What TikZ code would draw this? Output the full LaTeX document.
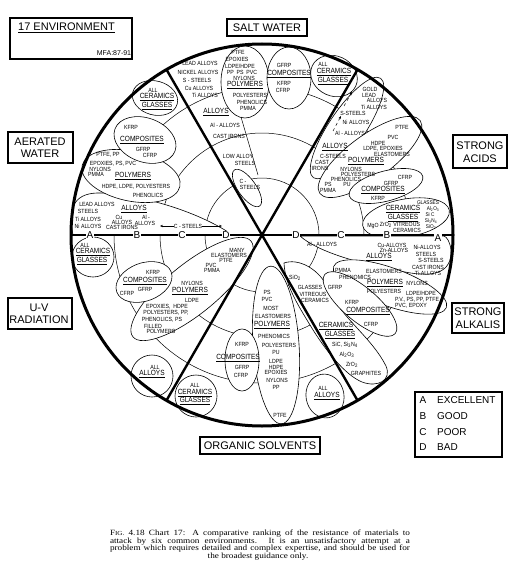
\documentclass[tikz,border=0pt]{standalone}
\usepackage{fontspec}
\setmainfont{Liberation Sans}
\newfontfamily\cond[FakeStretch=0.87]{Liberation Sans}
\newfontfamily\capserif[FakeStretch=1.15]{Liberation Serif}
\usetikzlibrary{arrows.meta}
\newcommand\smT[3]{\node[sm] at (#1,#2) {#3};}
\newcommand\hdT[3]{\node[hd] at (#1,#2) {\underline{#3}};}
\newcommand\sbs[1]{\textsubscript{#1}}
\begin{document}
\begin{tikzpicture}[x=1pt,y=-1pt,
  sm/.style={font=\cond\fontsize{6}{6}\selectfont, inner sep=0pt},
  tiny/.style={font=\cond\fontsize{5.4}{5.4}\selectfont, inner sep=0pt},
  hd/.style={font=\cond\fontsize{7.5}{7.5}\selectfont, inner sep=0pt},
  blob/.style={draw, line width=0.6pt, fill=white},
  ring/.style={line width=0.5pt},
  env/.style={font=\fontsize{11}{12.5}\selectfont, align=center, inner sep=0pt},
  envbox/.style={line width=1.3pt},
  letter/.style={font=\fontsize{10}{10}\selectfont, fill=white, inner sep=0.8pt},
  sector/.style={line width=2.4pt},
  arr/.style={-{Stealth[length=3pt,width=2.4pt]}, line width=0.5pt}]
\useasboundingbox (0,0) rectangle (509,575);
\fill[white] (0,0) rectangle (509,575);
\coordinate (O) at (262,235);
% zone rings
\draw[ring] (O) circle[radius=57pt];
\draw[ring] (O) circle[radius=102pt];
\draw[ring] (O) circle[radius=148pt];

% ---------- SALT WATER blobs
\draw[blob] (245,82) ellipse[x radius=24pt, y radius=36pt];
\draw[blob] (289,78) ellipse[x radius=22pt, y radius=31pt];
\draw[blob] (334,76) ellipse[x radius=24pt, y radius=20pt, rotate=-25];
\draw[ring] (241,117) -- (258,175);
\draw[blob] (247,188) ellipse[x radius=22pt, y radius=9pt, rotate=-55];
% ---------- STRONG ACIDS blobs
\draw[blob] (347,128) ellipse[x radius=60pt, y radius=18pt, rotate=56];
\draw[blob] (370,157) ellipse[x radius=62pt, y radius=22pt, rotate=36];
\draw[blob] (386,186) ellipse[x radius=38pt, y radius=15pt, rotate=15];
\draw[blob] (406,218) ellipse[x radius=44pt, y radius=19pt, rotate=10];
% ---------- STRONG ALKALIS blobs
\draw[blob] (300,236) .. controls (318,252) and (360,264) .. (405,272)
  .. controls (435,278) and (452,272) .. (451,250)
  .. controls (450,242) and (447,237) .. (444,236) -- cycle;
\draw[blob] (390,287) ellipse[x radius=60pt, y radius=19pt, rotate=-20];
\draw[blob] (284,263) .. controls (298,258) and (320,268) .. (330,292)
  .. controls (342,318) and (372,338) .. (386,366)
  .. controls (392,380) and (378,388) .. (362,382)
  .. controls (345,375) and (325,350) .. (310,325)
  .. controls (298,305) and (285,285) .. (284,263) -- cycle;
\draw[blob] (360,304) ellipse[x radius=46pt, y radius=17pt, rotate=-40];
% ---------- ORGANIC SOLVENTS blobs
\draw[blob] (276,345) ellipse[x radius=23pt, y radius=79pt, rotate=4];
\draw[blob] (242,360) ellipse[x radius=17pt, y radius=31pt];
\draw[blob] (325,396) ellipse[x radius=19pt, y radius=22pt, rotate=10];
\draw[blob] (196,396) circle[radius=21pt];
% ---------- U-V RADIATION blobs
\draw[blob] (152,376) circle[radius=21pt];
\draw[blob] (192,289) ellipse[x radius=76pt, y radius=25pt, rotate=39];
\draw[blob] (144,282) ellipse[x radius=29pt, y radius=19pt, rotate=20];
\draw[blob] (93,257) ellipse[x radius=21pt, y radius=20pt];
% ---------- AERATED WATER blobs
\draw[blob] (73,235) .. controls (67,205) and (76,192) .. (102,193)
  .. controls (150,196) and (200,214) .. (228,232) -- (228,235) -- cycle;
\draw[blob] (131,176) ellipse[x radius=50pt, y radius=25pt, rotate=-12];
\draw[blob] (145,140) ellipse[x radius=32pt, y radius=22pt, rotate=-20];
\draw[blob] (155,98) ellipse[x radius=23pt, y radius=17pt, rotate=-15];

% ---------- sector lines and outer circle
\coordinate (s60) at (357.5,69.6);
\coordinate (s120) at (166.5,69.6);
\coordinate (s240) at (166.5,400.4);
\coordinate (s300) at (357.5,400.4);
\coordinate (hl) at (71,235);
\coordinate (hr) at (453,235);
\draw[sector] (s120) -- (s300);
\draw[sector] (s60) -- (s240);
\draw[sector] (hl) -- (hr);
\draw[line width=3pt] (O) circle[radius=191pt];

% ---------- rank letters
\node[letter] (lA) at (90,235) {A};
\node[letter] (lB) at (137,235) {B};
\node[letter] (lC) at (182,235) {C};
\node[letter] (lD) at (226,235) {D};
\node[letter] (rD) at (296,235) {D};
\node[letter] (rC) at (341,235) {C};
\node[letter] (rB) at (387,235) {B};
\node[letter] (rA) at (438,238) {A};

% ---------- SALT WATER text
\smT{200}{63}{LEAD ALLOYS}
\smT{198}{72}{NICKEL ALLOYS}
\smT{197}{80}{S - STEELS}
\smT{199}{88}{Cu ALLOYS}
\smT{205}{95}{Ti ALLOYS}
\hdT{216}{112}{ALLOYS}
\smT{225}{125}{Al - ALLOYS}
\smT{229}{136}{CAST IRONS}
\smT{238}{156}{LOW ALLOY}
\smT{245}{163}{STEELS}
\smT{243}{181}{C -}
\smT{250}{187}{STEELS}
\smT{238}{52}{PTFE}
\smT{237}{59}{EPOXIES}
\smT{240}{66}{LDPE/HDPE}
\smT{242}{72}{PP\ \ PS\ \ PVC}
\smT{244}{78}{NYLONS}
\hdT{245}{85}{POLYMERS}
\smT{250}{95}{POLYESTERS}
\smT{252}{102}{PHENOLICS}
\smT{248}{108}{PMMA}
\smT{284}{65}{GFRP}
\hdT{289}{74}{COMPOSITES}
\smT{284}{83}{KFRP}
\smT{283}{90}{CFRP}
\smT{323}{64}{ALL}
\hdT{334}{72}{CERAMICS}
\hdT{333}{81}{GLASSES}

% ---------- STRONG ACIDS text
\smT{370}{89}{GOLD}
\smT{369}{95}{LEAD}
\smT{377}{100}{ALLOYS}
\smT{374}{107}{Ti ALLOYS}
\smT{353}{113}{S-STEELS}
\smT{356}{122}{Ni ALLOYS}
\smT{350}{133}{Al - ALLOYS}
\hdT{335}{147}{ALLOYS}
\smT{333}{156}{C-STEELS}
\smT{322}{162}{CAST}
\smT{320}{168}{IRONS}
\draw[arr, dashed] (333,131) -- (341,116);
\draw[arr, dashed] (344,106) -- (352,92);
\smT{402}{127}{PTFE}
\smT{393}{137}{PVC}
\smT{378}{143}{HDPE}
\smT{383}{148.5}{LDPE, EPOXIES}
\smT{392}{154}{ELASTOMERS}
\hdT{366}{161}{POLYMERS}
\smT{351}{169}{NYLONS}
\smT{358}{174}{POLYESTERS}
\smT{346}{179}{PHENOLICS}
\smT{328}{184}{PS}
\smT{347}{184}{PU}
\smT{328}{190}{PMMA}
\smT{405}{177}{CFRP}
\smT{391}{183}{GFRP}
\hdT{383}{190}{COMPOSITES}
\smT{378}{198}{KFRP}
\node[tiny] at (428,202.5) {GLASSES};
\hdT{403}{209}{CERAMICS}
\node[tiny] at (433,209) {Al\sbs{2}O\sbs{3}};
\hdT{403}{218}{GLASSES}
\node[tiny] at (430,215) {Si C};
\smT{373}{226}{MgO}
\smT{400}{225}{ZrO\sbs{2} VITREOUS}
\node[tiny] at (431,221) {Si\sbs{3}N\sbs{4}};
\smT{407}{230}{CERAMICS}
\node[tiny] at (431,227.5) {SiO\sbs{2}};

% ---------- STRONG ALKALIS text
\smT{322}{244}{Al - ALLOYS}
\smT{392}{245}{Cu-ALLOYS}
\smT{394}{250}{Zn-ALLOYS}
\smT{427}{247}{Ni-ALLOYS}
\smT{426}{254}{STEELS}
\hdT{379}{257}{ALLOYS}
\smT{431}{260}{S-STEELS}
\smT{428}{267}{CAST IRONS}
\smT{428}{273}{Ti-ALLOYS}
\smT{343}{270}{PMMA}
\smT{384}{271.5}{ELASTOMERS}
\smT{355}{277.5}{PHENOMICS}
\hdT{385}{283}{POLYMERS}
\smT{417}{283}{NYLONS}
\smT{384}{291}{POLYESTERS}
\smT{421}{293}{LDPE/HDPE}
\smT{417}{300}{P.V., PS, PP, PTFE}
\smT{411}{306}{PVC, EPOXY}
\smT{335}{287}{GFRP}
\smT{352}{302}{KFRP}
\hdT{368}{311}{COMPOSITES}
\smT{371}{324}{CFRP}
\smT{295}{278}{SiO\sbs{2}}
\smT{310}{287}{GLASSES}
\smT{313}{294}{VITREOUS}
\smT{315}{300}{CERAMICS}
\hdT{336}{326}{CERAMICS}
\hdT{340}{335}{GLASSES}
\smT{345}{345}{SiC, Si\sbs{3}N\sbs{4}}
\smT{347}{355}{Al\sbs{2}O\sbs{3}}
\smT{352}{365}{ZrO\sbs{2}}
\smT{366}{373}{GRAPHITES}

% ---------- ORGANIC SOLVENTS text
\smT{267}{292}{PS}
\smT{267}{299}{PVC}
\smT{271}{308}{MOST}
\smT{273}{316}{ELASTOMERS}
\hdT{272}{325}{POLYMERS}
\smT{274}{336}{PHENOMICS}
\smT{279}{345}{POLYESTERS}
\smT{276}{352}{PU}
\smT{276}{361}{LDPE}
\smT{276}{367}{HDPE}
\smT{276}{372}{EPOXIES}
\smT{277}{380}{NYLONS}
\smT{276}{387}{PP}
\smT{280}{415}{PTFE}
\smT{242}{344}{KFRP}
\hdT{238}{358}{COMPOSITES}
\smT{242}{367}{GFRP}
\smT{241}{375}{CFRP}
\smT{323}{388}{ALL}
\hdT{327}{396}{ALLOYS}
\smT{195}{385}{ALL}
\hdT{195}{393}{CERAMICS}
\hdT{195}{401}{GLASSES}

% ---------- U-V RADIATION text
\smT{155}{367}{ALL}
\hdT{152}{374}{ALLOYS}
\smT{153}{272}{KFRP}
\hdT{145}{281}{COMPOSITES}
\smT{145}{289}{GFRP}
\smT{127}{293}{CFRP}
\smT{192}{283}{NYLONS}
\hdT{190}{291}{POLYMERS}
\smT{192}{300}{LDPE}
\smT{167}{307}{EPOXIES,\ \ HDPE}
\smT{166}{313}{POLYESTERS, PP,}
\smT{162}{320}{PHENOLICS, PS}
\smT{153}{326}{FILLED}
\smT{161}{331}{POLYMERS}
\smT{237}{250}{MANY}
\smT{229}{255}{ELASTOMERS}
\smT{226}{260}{PTFE}
\smT{211}{265}{PVC}
\smT{212}{270}{PMMA}
\smT{85}{245}{ALL}
\hdT{93}{252}{CERAMICS}
\hdT{92}{261}{GLASSES}

% ---------- AERATED WATER text
\smT{97}{204}{LEAD ALLOYS}
\smT{88}{211}{STEELS}
\smT{88}{219}{Ti ALLOYS}
\smT{88}{226}{Ni ALLOYS}
\hdT{134}{209}{ALLOYS}
\smT{119}{217}{Cu}
\smT{122}{222}{ALLOYS}
\smT{122}{227}{CAST IRONS}
\smT{146}{217}{Al -}
\smT{145}{223}{ALLOYS}
\node[sm] (cst) at (188,226) {C - STEELS};
\coordinate (cstL) at (160,226);
\coordinate (cstR) at (222,226);
\draw[arr] (cst.west) -- (cstL);
\draw[arr] (cst.east) -- (cstR);
\smT{108}{155}{PTFE, PP}
\smT{113}{164}{EPOXIES, PS, PVC}
\smT{100}{169}{NYLONS}
\smT{96}{174}{PMMA}
\hdT{133}{176}{POLYMERS}
\smT{136}{187}{HDPE, LDPE, POLYESTERS}
\smT{148}{195}{PHENOLICS}
\smT{131}{127}{KFRP}
\hdT{142}{140}{COMPOSITES}
\smT{143}{149}{GFRP}
\smT{150}{155}{CFRP}
\smT{153}{90}{ALL}
\hdT{157}{97}{CERAMICS}
\hdT{157}{106}{GLASSES}

% ---------- environment labels
\draw[envbox] (10,18) rectangle (132,59);
\node[font=\fontsize{11}{11}\selectfont, inner sep=0pt, anchor=west] (envt) at (18,28) {\underline{17 ENVIRONMENT}};
\node[font=\fontsize{7}{7}\selectfont, inner sep=0pt] (mfa) at (114,53) {MFA:87-91};
\draw[envbox] (227,19) rectangle (307,36);
\node[env] (salt) at (267,27.5) {SALT WATER};
\draw[envbox] (453,135) rectangle (507,168);
\node[env] (acids) at (480,152) {STRONG\\ACIDS};
\draw[envbox] (452,303) rectangle (504,333);
\node[env] (alk) at (478,318) {STRONG\\ALKALIS};
\draw[envbox] (8,132) rectangle (73,163);
\node[env] (aer) at (40,147.5) {AERATED\\WATER};
\draw[envbox] (8,298) rectangle (72,329);
\node[env] (uv) at (39,314) {U-V\\RADIATION};
\draw[envbox] (200,437) rectangle (320,454);
\node[env] (org) at (260,445.5) {ORGANIC SOLVENTS};

% ---------- legend
\draw[envbox] (415,392) rectangle (502,457);
\foreach \l/\w/\yy in {A/EXCELLENT/400, B/GOOD/416, C/POOR/432, D/BAD/447}{
  \node[font=\fontsize{10}{10}\selectfont, inner sep=0pt] at (423,\yy) {\l};
  \node[font=\fontsize{10}{10}\selectfont, inner sep=0pt, anchor=west] at (437,\yy) {\w};
}

% ---------- caption
\begin{scope}[every node/.style={font=\capserif\fontsize{8}{7.3}\selectfont, inner sep=0pt}]
\node (cap1) at (260,534) {\makebox[300pt][s]{F{\fontsize{6.2}{6}\selectfont IG.} 4.18 Chart 17: A comparative ranking of the resistance of materials to}};
\node (cap2) at (260,541.5) {\makebox[300pt][s]{attack by six common environments. It is an unsatisfactory attempt at a}};
\node (cap3) at (260,549) {\makebox[300pt][s]{problem which requires detailed and complex expertise, and should be used for}};
\node (cap4) at (258,556.5) {the broadest guidance only.};
\end{scope}
\end{tikzpicture}
\end{document}
